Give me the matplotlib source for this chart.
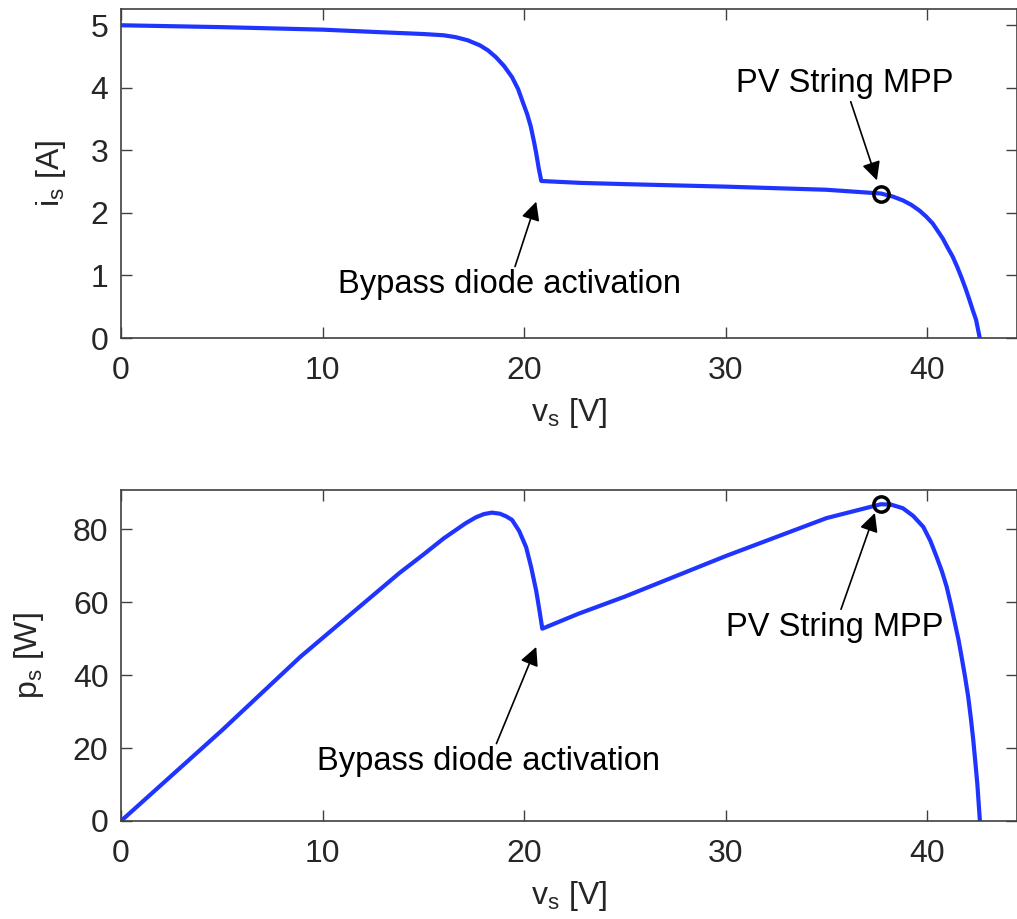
import matplotlib
matplotlib.use('Agg')
import matplotlib.pyplot as plt

# I-V curve of the PV string
v_iv = [0, 5, 10, 12.8, 15, 16, 16.6, 17.2, 17.8, 18.2, 18.6, 19.0, 19.4, 19.7,
        19.9, 20.15, 20.33, 20.5, 20.6, 20.72, 20.85, 22.8, 25, 30, 35, 37.7,
        38.3, 38.79, 39.2, 39.6, 39.95, 40.27, 40.5, 40.77, 41.0, 41.26, 41.48,
        41.68, 41.9, 42.09, 42.25, 42.42, 42.59]
i_s = [5.00, 4.97, 4.93, 4.89, 4.86, 4.84, 4.81, 4.76, 4.68, 4.60, 4.49, 4.35, 4.17, 3.98,
       3.80, 3.58, 3.38, 3.12, 2.95, 2.72, 2.51, 2.48, 2.46, 2.42, 2.37, 2.31,
       2.26, 2.20, 2.13, 2.04, 1.94, 1.83, 1.72, 1.59, 1.45, 1.30, 1.14,
       0.98, 0.79, 0.61, 0.45, 0.29, 0.02]

# P-V curve of the PV string
v_pv = [0, 5, 8.9, 13.8, 15, 16, 17.1, 17.6, 18.0, 18.4, 18.8, 19.1, 19.4, 19.75, 20.1,
        20.35, 20.6, 20.75, 20.9, 22.7, 25, 30, 35, 37.7, 38.2, 38.79, 39.3,
        39.8, 40.15, 40.46, 40.72, 40.96, 41.17, 41.37, 41.55, 41.7, 41.87,
        42.03, 42.16, 42.28, 42.38, 42.48, 42.61]
p_s = [0, 24.8, 45, 67.9, 73, 77.4, 81.6, 83.2, 84.1, 84.5, 84.2, 83.5, 82.5, 79.5, 75,
       69.5, 63, 58, 52.7, 56.8, 61.5, 72.6, 83, 86.8, 86.7, 85.7, 83.6,
       80.6, 76.8, 72.4, 68.5, 64.2, 59.3, 54.2, 49.6, 45, 39.6,
       34, 28.2, 22.2, 16.3, 10.3, 0]

mpp_v = 37.7
mpp_i = 2.31
mpp_p = 86.8

plt.rcParams['font.family'] = ['Liberation Sans', 'DejaVu Sans']
plt.rcParams['mathtext.default'] = 'regular'

fig = plt.figure(figsize=(10.17, 9.19), dpi=100)
W, H = 1017, 919
ax1 = fig.add_axes([121 / W, 1 - 338 / H, (1017 - 121) / W, (338 - 9) / H])
ax2 = fig.add_axes([121 / W, 1 - 821 / H, (1017 - 121) / W, (821 - 490) / H])

line_color = '#1f35ff'
edge = '#404040'
txt = '#262626'

ax1.plot(v_iv, i_s, color=line_color, lw=3)
ax1.plot(mpp_v, mpp_i, 'o', mfc='none', mec='k', ms=11, mew=2.5)
ax2.plot(v_pv, p_s, color=line_color, lw=3)
ax2.plot(mpp_v, mpp_p, 'o', mfc='none', mec='k', ms=11, mew=2.5)

ax1.set_xlim(0, 44.45)
ax1.set_ylim(0, 5.26)
ax1.set_yticks([0, 1, 2, 3, 4, 5])
ax2.set_xlim(0, 44.45)
ax2.set_ylim(0, 90.7)
ax2.set_yticks([0, 20, 40, 60, 80])

for ax in (ax1, ax2):
    ax.set_xticks([0, 10, 20, 30, 40])
    ax.tick_params(direction='in', top=True, right=True, length=8, width=1,
                   color=edge, labelcolor=txt, labelsize=23)
    ax.tick_params(axis='x', pad=13)
    ax.tick_params(axis='y', pad=9)
    for s in ax.spines.values():
        s.set_color(edge)
        s.set_linewidth(1.2)
    ax.set_xlabel('v$_s$ [V]', fontsize=23, color=txt, labelpad=7)

ax1.set_ylabel('i$_s$ [A]', fontsize=23, color=txt, labelpad=16)
ax2.set_ylabel('p$_s$ [W]', fontsize=23, color=txt, labelpad=19)

arrow = dict(arrowstyle='-|>', color='k', lw=1.2, mutation_scale=28, shrinkA=0, shrinkB=0)

ax1.annotate('Bypass diode activation', xy=(20.6, 2.18), xytext=(19.25, 0.85),
             ha='center', va='center', fontsize=23.5, color='k', arrowprops=arrow)
ax1.annotate('PV String MPP', xy=(37.5, 2.52), xytext=(35.9, 4.07),
             ha='center', va='center', fontsize=23.5, color='k', arrowprops=arrow)
ax2.annotate('Bypass diode activation', xy=(20.6, 47.7), xytext=(18.25, 16.2),
             ha='center', va='center', fontsize=23.5, color='k', arrowprops=arrow)
ax2.annotate('PV String MPP', xy=(37.4, 84.4), xytext=(35.4, 53),
             ha='center', va='center', fontsize=23.5, color='k', arrowprops=arrow)

fig.savefig('out.png', dpi=100)
